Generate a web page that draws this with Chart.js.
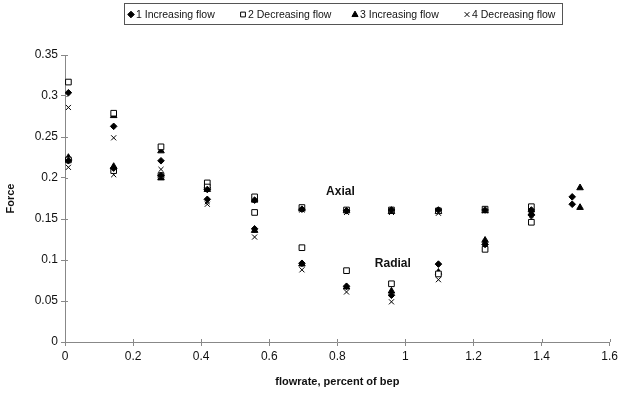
<!DOCTYPE html>
<html><head><meta charset="utf-8">
<script src="https://cdn.jsdelivr.net/npm/chart.js@4.4.1/dist/chart.umd.min.js"></script>
<style>html,body{margin:0;padding:0;background:#fff}</style>
</head><body>
<canvas id="c" width="621" height="393" style="width:621px;height:393px;display:block"></canvas>
<script>
// ---- data ----
const seriesNames = ['1 Increasing flow', '2 Decreasing flow', '3 Increasing flow', '4 Decreasing flow'];

const s1X = [0.01, 0.01, 0.143, 0.143, 0.282, 0.282, 0.418, 0.418, 0.557, 0.557, 0.696, 0.696, 0.827, 0.827, 0.959, 0.959, 1.097, 1.097, 1.234, 1.234, 1.37, 1.37, 1.49, 1.49];
const s1Y = [0.304, 0.221, 0.263, 0.212, 0.221, 0.203, 0.186, 0.174, 0.173, 0.138, 0.162, 0.096, 0.160, 0.068, 0.161, 0.057, 0.161, 0.095, 0.161, 0.119, 0.161, 0.155, 0.177, 0.168];

const s2X = [0.01, 0.01, 0.143, 0.143, 0.282, 0.282, 0.418, 0.418, 0.557, 0.557, 0.696, 0.696, 0.827, 0.827, 0.959, 0.959, 1.097, 1.097, 1.234, 1.234, 1.37, 1.37];
const s2Y = [0.317, 0.222, 0.279, 0.209, 0.238, 0.203, 0.194, 0.189, 0.177, 0.158, 0.164, 0.115, 0.161, 0.087, 0.161, 0.071, 0.160, 0.083, 0.162, 0.113, 0.165, 0.146];

const s3X = [0.01, 0.143, 0.143, 0.282, 0.282, 0.418, 0.418, 0.557, 0.557, 0.696, 0.696, 0.827, 0.827, 0.959, 0.959, 1.097, 1.097, 1.234, 1.234, 1.37, 1.37, 1.513, 1.513];
const s3Y = [0.225, 0.276, 0.214, 0.233, 0.200, 0.190, 0.186, 0.173, 0.136, 0.162, 0.095, 0.160, 0.067, 0.159, 0.062, 0.159, 0.085, 0.160, 0.124, 0.161, 0.157, 0.188, 0.164];

const s4X = [0.01, 0.01, 0.143, 0.143, 0.282, 0.282, 0.418, 0.418, 0.557, 0.557, 0.696, 0.696, 0.827, 0.827, 0.959, 0.959, 1.097, 1.097, 1.234, 1.234, 1.37, 1.37];
const s4Y = [0.286, 0.213, 0.249, 0.204, 0.2105, 0.201, 0.171, 0.168, 0.173, 0.128, 0.161, 0.088, 0.158, 0.061, 0.158, 0.049, 0.157, 0.076, 0.160, 0.121, 0.158, 0.150];

const xTicks = [0, 0.2, 0.4, 0.6, 0.8, 1, 1.2, 1.4, 1.6];
const yTicks = [0, 0.05, 0.1, 0.15, 0.2, 0.25, 0.3, 0.35];

const axisTitleX = 'flowrate, percent of bep';
const axisTitleY = 'Force';
const notes = [
  { text: 'Axial', x: 0.809, y: 0.183 },
  { text: 'Radial', x: 0.963, y: 0.095 }
];

// ---- build ----
const pts = (xs, ys) => xs.map((x, i) => ({ x: x, y: ys[i] }));
const styles = [
  { pointStyle: 'rectRot', radius: 3.3, bg: '#000', border: '#000' },
  { pointStyle: 'rect', radius: 4, bg: '#fff', border: '#000' },
  { pointStyle: 'triangle', radius: 3.8, bg: '#000', border: '#000' },
  { pointStyle: 'crossRot', radius: 3.6, bg: '#000', border: '#000' }
];
const allX = [s1X, s2X, s3X, s4X], allY = [s1Y, s2Y, s3Y, s4Y];
const datasets = seriesNames.map((n, i) => ({
  label: n,
  data: pts(allX[i], allY[i]),
  pointStyle: styles[i].pointStyle,
  pointRadius: styles[i].radius,
  pointHoverRadius: styles[i].radius,
  backgroundColor: styles[i].bg,
  borderColor: styles[i].border,
  borderWidth: 1,
  showLine: false
}));

const FONT = '"Liberation Sans", Arial, sans-serif';

function drawMarker(ctx, st, x, y) {
  ctx.save();
  ctx.fillStyle = st.bg; ctx.strokeStyle = st.border; ctx.lineWidth = 1;
  const r = st.radius;
  ctx.beginPath();
  if (st.pointStyle === 'rectRot') {
    ctx.moveTo(x, y - r); ctx.lineTo(x + r, y); ctx.lineTo(x, y + r); ctx.lineTo(x - r, y); ctx.closePath();
    ctx.fill(); ctx.stroke();
  } else if (st.pointStyle === 'rect') {
    const s = r * Math.SQRT1_2;
    ctx.rect(x - s, y - s, 2 * s, 2 * s); ctx.fill(); ctx.stroke();
  } else if (st.pointStyle === 'triangle') {
    ctx.moveTo(x, y - r); ctx.lineTo(x + r * 0.9, y + r * 0.6); ctx.lineTo(x - r * 0.9, y + r * 0.6); ctx.closePath();
    ctx.fill(); ctx.stroke();
  } else {
    const s = r * Math.SQRT1_2;
    ctx.moveTo(x - s, y - s); ctx.lineTo(x + s, y + s); ctx.moveTo(x + s, y - s); ctx.lineTo(x - s, y + s); ctx.stroke();
  }
  ctx.restore();
}

const extras = {
  id: 'extras',
  afterDraw(chart) {
    const ctx = chart.ctx;
    const xs = chart.scales.x, ys = chart.scales.y;
    // inner halves of tick marks
    ctx.save();
    ctx.strokeStyle = '#888'; ctx.lineWidth = 1;
    xTicks.forEach(v => { const px = Math.round(xs.getPixelForValue(v)) + 0.5; ctx.beginPath(); ctx.moveTo(px, ys.bottom); ctx.lineTo(px, ys.bottom - 3); ctx.stroke(); });
    yTicks.forEach(v => { const py = Math.round(ys.getPixelForValue(v)) + 0.5; ctx.beginPath(); ctx.moveTo(xs.left, py); ctx.lineTo(xs.left + 3, py); ctx.stroke(); });
    ctx.restore();
    // annotations
    ctx.save();
    ctx.fillStyle = '#111'; ctx.font = 'bold 12px ' + FONT; ctx.textAlign = 'center'; ctx.textBaseline = 'middle';
    notes.forEach(n => ctx.fillText(n.text, xs.getPixelForValue(n.x), ys.getPixelForValue(n.y)));
    ctx.restore();
    // legend (boxed, evenly pitched entries)
    ctx.save();
    ctx.font = '10.5px ' + FONT; ctx.fillStyle = '#111'; ctx.textBaseline = 'middle'; ctx.textAlign = 'left';
    const firstMarker = 131, pitch = 112, cy = 14.5;
    seriesNames.forEach((n, i) => {
      const mx = firstMarker + i * pitch;
      drawMarker(ctx, Object.assign({}, styles[i], { radius: Math.min(styles[i].radius, 3.4) }), mx, cy);
      ctx.fillText(n, mx + 5, cy + 0.5);
    });
    const lastW = ctx.measureText(seriesNames[seriesNames.length - 1]).width;
    const boxL = firstMarker - 7, boxR = firstMarker + 3 * pitch + 5 + lastW + 7;
    ctx.strokeStyle = '#555'; ctx.lineWidth = 1;
    ctx.strokeRect(Math.round(boxL) + 0.5, 3.5, Math.round(boxR - boxL), 21);
    ctx.restore();
  }
};

new Chart(document.getElementById('c'), {
  type: 'scatter',
  data: { datasets },
  plugins: [extras],
  options: {
    responsive: false,
    devicePixelRatio: 1,
    animation: false,
    layout: { padding: { top: 55, right: 0, left: 0, bottom: 0 } },
    plugins: { legend: { display: false }, tooltip: { enabled: false } },
    scales: {
      x: {
        type: 'linear', min: 0, max: 1.6,
        afterBuildTicks: s => { s.ticks = xTicks.map(v => ({ value: v })); },
        afterFit: s => { s.height = 51; },
        ticks: { color: '#111', font: { family: FONT, size: 12 }, padding: 3, maxRotation: 0,
          callback: v => String(+(+v).toFixed(2)) },
        grid: { drawOnChartArea: false, drawTicks: true, tickLength: 4, color: '#888' },
        border: { display: true, color: '#888' },
        title: { display: true, text: axisTitleX, color: '#111', font: { family: FONT, size: 11, weight: 'bold' }, padding: { top: 4, bottom: 4 } }
      },
      y: {
        type: 'linear', min: 0, max: 0.35,
        afterBuildTicks: s => { s.ticks = yTicks.map(v => ({ value: v })); },
        afterFit: s => { s.width = 65; },
        ticks: { color: '#111', font: { family: FONT, size: 12 }, padding: 3,
          callback: v => String(+(+v).toFixed(2)) },
        grid: { drawOnChartArea: false, drawTicks: true, tickLength: 4, color: '#888' },
        border: { display: true, color: '#888' },
        title: { display: true, text: axisTitleY, color: '#111', font: { family: FONT, size: 11, weight: 'bold' }, padding: { top: 4, bottom: 4 } }
      }
    }
  }
});
</script>
</body></html>
